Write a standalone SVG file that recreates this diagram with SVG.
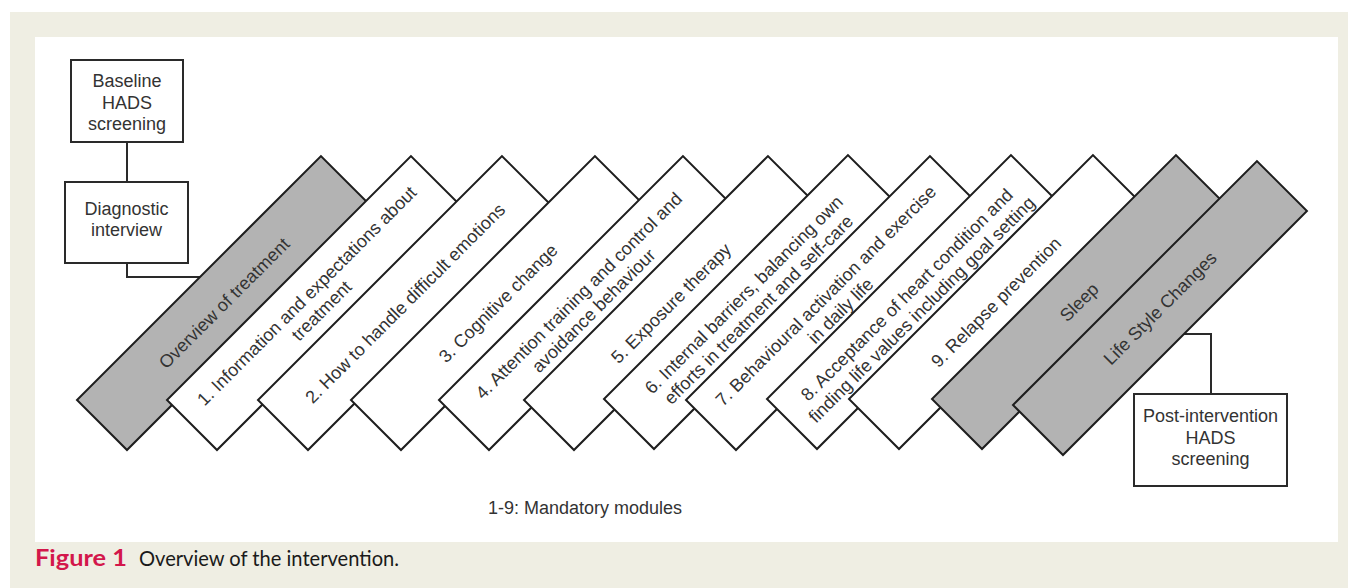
<svg xmlns="http://www.w3.org/2000/svg" width="1348" height="588" viewBox="0 0 1348 588">
<style>
.box{fill:#ffffff;stroke:#2a2a2a;stroke-width:2}
.mod{fill:#ffffff;stroke:#1e1e1e;stroke-width:2}
.opt{fill:#b3b3b3;stroke:#1e1e1e;stroke-width:2}
.t{font-family:"Liberation Sans",Arial,sans-serif;font-size:18px;fill:#333333;text-anchor:middle}
.conn{fill:none;stroke:#2a2a2a;stroke-width:2}
</style>
<rect x="0" y="0" width="1348" height="588" fill="#ffffff"/>
<rect x="10" y="12" width="1338" height="576" fill="#efeee3"/>
<rect x="35" y="37" width="1303" height="505" fill="#ffffff"/>

<g id="connectors">
<path class="conn" d="M127 142 V182"/>
<path class="conn" d="M127 263 V277 H215"/>
<path class="conn" d="M1211 394 V334 H1175"/>
</g>

<g id="baseline">
<rect class="box" x="71" y="60" width="112" height="82"/>
<text class="t" x="127" y="87">Baseline</text>
<text class="t" x="127" y="108.5">HADS</text>
<text class="t" x="127" y="130">screening</text>
</g>

<g id="diagnostic">
<rect class="box" x="65" y="182" width="123" height="81"/>
<text class="t" x="126.5" y="214.5">Diagnostic</text>
<text class="t" x="126.5" y="236">interview</text>
</g>

<g id="m0" transform="translate(77 400) rotate(-45)">
<rect class="opt" width="345" height="70.7"/>
<text class="t" x="172.5" y="41.8">Overview of treatment</text>
</g>
<g id="m1" transform="translate(167 400) rotate(-45)">
<rect class="mod" width="345" height="70.7"/>
<text class="t" x="172.5" y="31.3">1. Information and expectations about</text>
<text class="t" x="172.5" y="52.3">treatment</text>
</g>
<g id="m2" transform="translate(258 400) rotate(-45)">
<rect class="mod" width="345" height="70.7"/>
<text class="t" x="172.5" y="41.8">2. How to handle difficult emotions</text>
</g>
<g id="m3" transform="translate(351 400) rotate(-45)">
<rect class="mod" width="345" height="70.7"/>
<text class="t" x="172.5" y="41.8">3. Cognitive change</text>
</g>
<g id="m4" transform="translate(439 400) rotate(-45)">
<rect class="mod" width="345" height="70.7"/>
<text class="t" x="172.5" y="31.3">4. Attention training and control and</text>
<text class="t" x="172.5" y="52.3">avoidance behaviour</text>
</g>
<g id="m5" transform="translate(524 400) rotate(-45)">
<rect class="mod" width="345" height="70.7"/>
<text class="t" x="172.5" y="41.8">5. Exposure therapy</text>
</g>
<g id="m6" transform="translate(604 399) rotate(-45)">
<rect class="mod" width="345" height="70.7"/>
<text class="t" x="172.5" y="31.3">6. Internal barriers, balancing own</text>
<text class="t" x="172.5" y="52.3">efforts in treatment and self-care</text>
</g>
<g id="m7" transform="translate(686 400) rotate(-45)">
<rect class="mod" width="345" height="70.7"/>
<text class="t" x="172.5" y="31.3">7. Behavioural activation and exercise</text>
<text class="t" x="172.5" y="52.3">in daily life</text>
</g>
<g id="m8" transform="translate(767 399) rotate(-45)">
<rect class="mod" width="345" height="70.7"/>
<text class="t" x="172.5" y="31.3">8. Acceptance of heart condition and</text>
<text class="t" x="172.5" y="52.3">finding life values including goal setting</text>
</g>
<g id="m9" transform="translate(849 399) rotate(-45)">
<rect class="mod" width="345" height="70.7"/>
<text class="t" x="172.5" y="41.8">9. Relapse prevention</text>
</g>
<g id="sleep" transform="translate(932 399) rotate(-45)">
<rect class="opt" width="345" height="70.7"/>
<text class="t" x="172.5" y="41.8">Sleep</text>
</g>
<g id="lifestyle" transform="translate(1013 405) rotate(-45)">
<rect class="opt" width="345" height="70.7"/>
<text class="t" x="172.5" y="41.8">Life Style Changes</text>
</g>

<g id="post">
<rect class="box" x="1134" y="394" width="153" height="92"/>
<text class="t" x="1210.5" y="422">Post-intervention</text>
<text class="t" x="1210.5" y="443.5">HADS</text>
<text class="t" x="1210.5" y="465">screening</text>
</g>

<text class="t" x="585" y="514">1-9: Mandatory modules</text>

<g id="caption">
<text x="35" y="566" font-family="Lato,'Open Sans',sans-serif" font-weight="bold" font-size="23" fill="#d3174b" textLength="92" lengthAdjust="spacingAndGlyphs">Figure 1</text>
<text x="139" y="566" font-family="Lato,'Open Sans',sans-serif" font-size="21" fill="#1a1a1a" textLength="260" lengthAdjust="spacingAndGlyphs">Overview of the intervention.</text>
</g>
</svg>
